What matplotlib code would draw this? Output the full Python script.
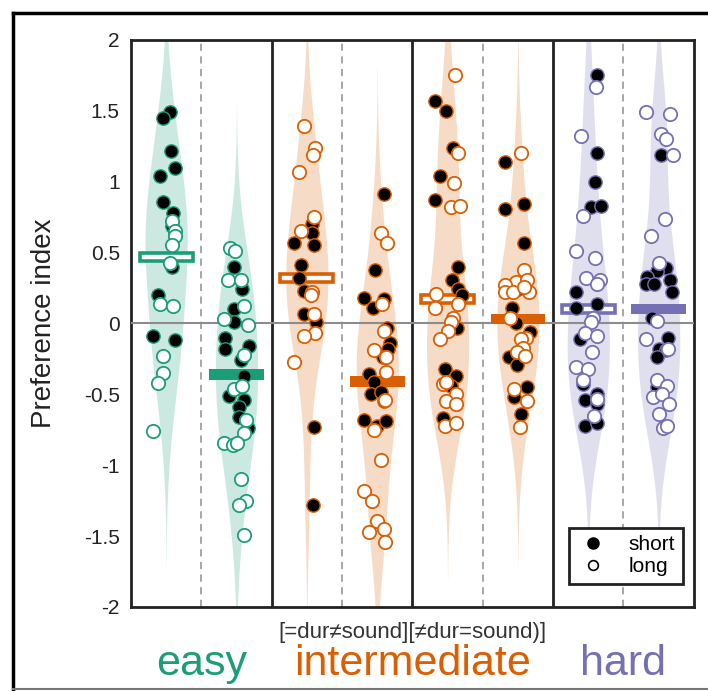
import numpy as np
import matplotlib
matplotlib.use('agg')
import matplotlib.pyplot as plt
from matplotlib.patches import Rectangle
from matplotlib.lines import Line2D

plt.rcParams['font.family'] = ['Liberation Sans', 'DejaVu Sans']

# colours of the three difficulty levels
green = '#1b9e77'
orange = '#d95f02'
purple = '#7570b3'
violin_colors = [green, green, orange, orange, orange, orange, purple, purple]

# preference index values, one list per violin
short_values = [
    [1.49, 1.45, 1.22, 1.10, 1.04, 0.86, 0.78, 0.69, 0.40, 0.20, -0.09, -0.12],
    [0.40, 0.24, 0.10, 0.01, -0.10, -0.18, -0.16, -0.26, -0.37, -0.51, -0.54, -0.59, -0.66, -0.74],
    [0.70, 0.64, 0.57, 0.55, 0.41, 0.32, 0.23, 0.07, 0.01, -0.73, -1.28],
    [0.91, 0.38, 0.18, 0.11, 0.17, -0.03, -0.14, -0.18, -0.24, -0.36, -0.41, -0.50, -0.48, -0.55, -0.68, -0.72, -0.69],
    [1.57, 1.50, 1.24, 1.04, 0.87, 0.40, 0.31, 0.24, 0.20, -0.03, -0.32, -0.37, -0.44, -0.67],
    [1.14, 0.84, 0.81, 0.57, 0.24, 0.11, 0.00, -0.06, -0.24, -0.29, -0.45, -0.52, -0.64],
    [1.75, 1.20, 1.00, 0.82, 0.83, 0.22, 0.11, 0.14, -0.11, -0.43, -0.54, -0.50, -0.57, -0.72, -0.70],
    [1.19, 0.39, 0.37, 0.33, 0.31, 0.28, 0.28, 0.22, 0.04, -0.10, -0.18, -0.19, -0.24, -0.45],
]
short_jitter = [
    [0.06, -0.05, 0.07, 0.13, -0.09, -0.04, 0.10, 0.08, 0.09, -0.12, -0.19, 0.13],
    [-0.03, 0.08, -0.04, -0.03, -0.17, -0.17, 0.18, 0.07, 0.11, -0.10, 0.11, 0.04, 0.04, 0.16],
    [0.07, 0.07, -0.18, 0.10, -0.08, -0.11, -0.04, -0.04, 0.13, 0.10, 0.08],
    [0.10, -0.03, -0.19, -0.06, 0.09, 0.14, 0.18, 0.15, 0.08, -0.11, -0.04, -0.09, 0.06, 0.10, -0.19, 0.00, 0.12],
    [-0.18, -0.02, 0.07, -0.11, -0.18, 0.15, 0.06, 0.15, 0.20, 0.14, -0.03, 0.12, 0.05, -0.07],
    [-0.18, 0.09, -0.18, 0.08, 0.00, -0.08, -0.03, 0.17, -0.13, -0.01, 0.13, -0.06, 0.05],
    [0.12, 0.13, 0.09, 0.04, 0.18, -0.18, -0.18, 0.13, -0.12, -0.07, -0.05, 0.12, 0.12, -0.05, 0.13],
    [0.04, 0.11, -0.02, -0.17, 0.16, -0.18, -0.07, 0.19, -0.10, 0.13, 0.00, 0.11, -0.03, -0.02],
]
long_values = [
    [0.72, 0.65, 0.62, 0.55, 0.43, 0.14, 0.12, -0.23, -0.35, -0.42, -0.76],
    [0.53, 0.51, 0.31, 0.31, 0.12, 0.03, -0.01, -0.22, -0.46, -0.44, -0.68, -0.77, -0.84, -0.86, -0.84, -1.10, -1.25, -1.28, -1.49],
    [1.39, 1.24, 1.19, 1.07, 0.75, 0.65, 0.22, 0.20, 0.07, -0.07, -0.09, -0.27],
    [0.64, 0.57, 0.14, -0.05, -0.19, -0.24, -0.34, -0.54, -0.75, -0.96, -1.18, -1.25, -1.39, -1.45, -1.47, -1.54],
    [1.75, 1.20, 0.99, 0.82, 0.83, 0.21, 0.14, 0.11, 0.04, 0.01, -0.05, -0.11, -0.43, -0.41, -0.50, -0.55, -0.57, -0.72, -0.70],
    [1.20, 0.38, 0.29, 0.31, 0.27, 0.22, 0.22, 0.22, 0.26, 0.04, -0.10, -0.11, -0.17, -0.20, -0.23, -0.46, -0.55, -0.73],
    [1.67, 1.32, 0.76, 0.51, 0.46, 0.32, 0.31, 0.28, 0.04, 0.01, -0.07, -0.09, -0.20, -0.31, -0.32, -0.40, -0.53, -0.65],
    [1.49, 1.48, 1.34, 1.30, 1.19, 0.74, 0.62, 0.43, 0.02, -0.11, -0.18, -0.40, -0.44, -0.52, -0.50, -0.57, -0.64, -0.74, -0.72],
]
long_jitter = [
    [0.08, 0.12, 0.13, 0.08, 0.06, -0.09, 0.10, -0.05, -0.04, -0.11, -0.18],
    [-0.09, -0.02, -0.12, 0.07, 0.10, -0.18, 0.17, 0.11, -0.04, 0.08, 0.14, 0.11, -0.18, -0.05, 0.00, 0.06, 0.14, 0.04, 0.10],
    [-0.04, 0.12, 0.08, -0.11, 0.10, -0.08, 0.07, 0.06, 0.10, 0.12, -0.04, -0.18],
    [0.05, 0.14, 0.07, 0.09, -0.05, 0.12, 0.12, 0.11, -0.04, 0.05, -0.19, -0.08, 0.00, 0.10, -0.11, 0.11],
    [0.11, 0.15, 0.09, 0.05, 0.18, -0.16, 0.15, -0.18, 0.08, 0.05, 0.00, -0.11, -0.07, -0.02, 0.12, -0.02, 0.12, -0.03, 0.12],
    [0.04, 0.09, -0.03, 0.13, -0.19, -0.18, -0.07, 0.16, 0.08, -0.12, 0.11, 0.05, 0.07, -0.02, 0.10, -0.05, 0.13, 0.03],
    [0.11, -0.11, -0.08, -0.18, 0.09, -0.03, 0.17, 0.12, 0.06, 0.04, -0.05, 0.12, 0.05, -0.18, 0.00, -0.08, 0.12, 0.08],
    [-0.18, 0.16, 0.04, 0.10, 0.20, 0.09, -0.11, 0.01, -0.02, -0.18, 0.13, -0.02, 0.12, -0.08, 0.05, 0.14, 0.00, 0.06, 0.12],
]
mean_values = [0.47, -0.36, 0.32, -0.41, 0.17, 0.03, 0.10, 0.10]
mean_open = [True, False, True, False, True, False, True, False]

group_names = ['easy', 'intermediate', 'hard']
group_colors = [green, orange, purple]
group_centers = [1.5, 4.5, 7.5]
sub_label = '[=dur\u2260sound][\u2260dur=sound)]'

fig = plt.figure(figsize=(7.08, 6.91), dpi=100)
ax = fig.add_axes([0.185, 0.1216, 0.795, 0.8206])

grid = np.linspace(-2, 2, 801)
bw = 0.38
for i, color in enumerate(violin_colors):
    pos = i + 1
    pts = np.array(short_values[i] + long_values[i])
    dens = np.exp(-0.5 * ((grid[:, None] - pts[None, :]) / bw) ** 2).sum(axis=1)
    half = 0.3 * dens / dens.max()
    keep = half > 0.0012
    ax.fill_betweenx(grid[keep], pos - half[keep], pos + half[keep],
                     color=color, alpha=0.22, lw=0, zorder=1)

    # mean bar
    if mean_open[i]:
        rect = Rectangle((pos - 0.375, mean_values[i] - 0.028), 0.75, 0.056,
                         facecolor='white', edgecolor=color, lw=2.6, zorder=4)
    else:
        rect = Rectangle((pos - 0.39, mean_values[i] - 0.036), 0.78, 0.072,
                         facecolor=color, edgecolor='none', zorder=4)
    ax.add_patch(rect)

    xs = pos + np.array(short_jitter[i])
    ax.scatter(xs, short_values[i], s=92, facecolor='black', edgecolor=color,
               linewidth=1.0, zorder=5)
    xl = pos + np.array(long_jitter[i])
    ax.scatter(xl, long_values[i], s=92, facecolor='white', edgecolor=color,
               linewidth=1.3, zorder=6)

# zero line, separators
ax.axhline(0, color='#8c8c8c', lw=1.5, zorder=3)
for x in [1.5, 3.5, 5.5, 7.5]:
    ax.axvline(x, color='#a0a0a0', lw=1.3, ls=(0, (4, 3)), zorder=2)
for x in [2.5, 4.5, 6.5]:
    ax.axvline(x, color='#222222', lw=2.0, zorder=2)

ax.set_xlim(0.5, 8.5)
ax.set_ylim(-2, 2)
ax.set_xticks([])
ax.set_yticks(np.arange(-2, 2.01, 0.5))
ax.set_yticklabels(['-2', '-1.5', '-1', '-0.5', '0', '0.5', '1', '1.5', '2'])
ax.tick_params(axis='y', length=0, pad=8, labelsize=15, colors='#222222')
for s in ax.spines.values():
    s.set_linewidth(2.0)
    s.set_color('#222222')
ax.set_ylabel('Preference index', fontsize=20, color='#222222')
ax.yaxis.set_label_coords(-0.131, 0.5)

# legend
handles = [
    Line2D([], [], marker='o', ls='none', mfc='black', mec='black', ms=8),
    Line2D([], [], marker='o', ls='none', mfc='white', mec='black', ms=7, mew=1.2),
]
leg = ax.legend(handles, ['short', 'long'], loc='lower right',
                bbox_to_anchor=(0.98, 0.041), borderaxespad=0, fontsize=15,
                fancybox=False, framealpha=1, handletextpad=0.9,
                borderpad=0.35, labelspacing=0.15, handlelength=1.6)
leg.get_frame().set_edgecolor('#222222')
leg.get_frame().set_linewidth(2.0)
leg.set_zorder(10)

# category labels under the axes
ax.text(4.5, -0.0547, sub_label, transform=ax.get_xaxis_transform(),
        ha='center', va='baseline', fontsize=16, color='#333333')
for name, color, xc in zip(group_names, group_colors, group_centers):
    ax.text(xc, -0.120, name, transform=ax.get_xaxis_transform(),
            ha='center', va='baseline', fontsize=31, color=color)

# outer frame of the panel
fig.add_artist(Line2D([13 / 708, 13 / 708], [2 / 691, 678 / 691], color='black', lw=2.5))
fig.add_artist(Line2D([13 / 708, 1.0], [678 / 691, 678 / 691], color='black', lw=2.5))
fig.add_artist(Line2D([13 / 708, 1.0], [2 / 691, 2 / 691], color='#777777', lw=1.5))

fig.savefig('out.png', dpi=100)
